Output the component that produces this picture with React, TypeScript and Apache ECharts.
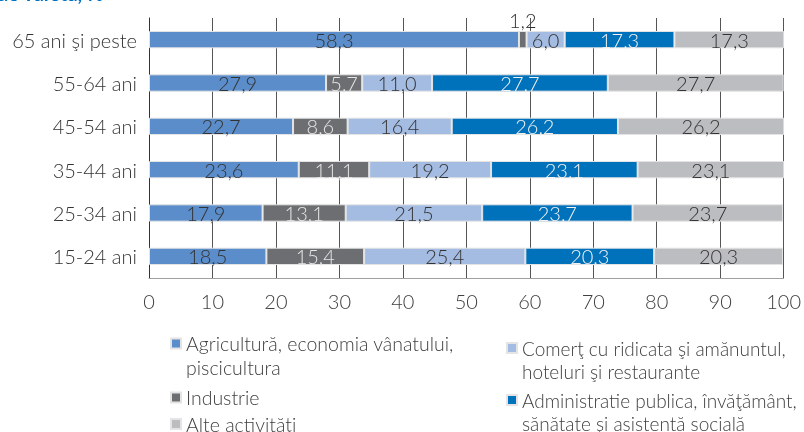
import React, { useEffect, useRef } from "react";
import * as echarts from "echarts";

const categories = ["15-24 ani", "25-34 ani", "35-44 ani", "45-54 ani", "55-64 ani", "65 ani şi peste"];
const agricultura = [18.5, 17.9, 23.6, 22.7, 27.9, 58.3];
const industrie = [15.4, 13.1, 11.1, 8.6, 5.7, 1.2];
const comert = [25.4, 21.5, 19.2, 16.4, 11.0, 6.0];
const administratie = [20.3, 23.7, 23.1, 26.2, 27.7, 17.3];
const alte = [20.3, 23.7, 23.1, 26.2, 27.7, 17.3];
const xTicks = [0, 10, 20, 30, 40, 50, 60, 70, 80, 90, 100];

const names = [
  "Agricultură, economia vânatului,\npiscicultura",
  "Industrie",
  "Comerţ cu ridicata şi amănuntul,\nhoteluri şi restaurante",
  "Administratie publica, învăţământ,\nsănătate şi asistentă socială",
  "Alte activităţi",
];
const colors = ["#5B8DCA", "#6D6E71", "#A4BCE2", "#0071BB", "#BCBDC0"];
const labelColors = ["#333333", "#E6E6E6", "#333333", "#F2F2F2", "#333333"];
const FONT = "Lato, 'Noto Sans', sans-serif";

export default function App() {
  const ref = useRef<HTMLDivElement>(null);
  useEffect(() => {
    const chart = echarts.init(ref.current!, null, { renderer: "svg" });
    const fmt = (v: number) => v.toFixed(1).replace(".", ",");
    const seriesData = [agricultura, industrie, comert, administratie, alte];
    const series = seriesData.map((arr, i) => ({
      name: names[i],
      type: "bar",
      stack: "total",
      barWidth: "40%",
      itemStyle: { color: colors[i], borderColor: "#E4E4E4", borderWidth: 1 },
      label: {
        show: true,
        position: "inside",
        formatter: (p: any) => fmt(p.value),
        color: labelColors[i],
        fontFamily: FONT,
        fontWeight: 300,
        fontSize: 20,
      },
      data: arr.map((v, j) =>
        i === 1 && j === 5
          ? { value: v, label: { position: "top", distance: 1, color: "#333333" } }
          : v
      ),
    }));
    const legendText = { fontFamily: FONT, fontSize: 19.5, color: "#404040", fontWeight: 300, lineHeight: 24 };
    const legendTextR = { ...legendText, fontSize: 19, lineHeight: 23 };
    const legendFmt = (n: string) => (n.includes("\n") ? " \n" + n : n);
    const legendBase = {
      orient: "vertical",
      itemWidth: 10,
      itemHeight: 10,
      icon: "rect",
      padding: 0,
      height: 200,
      formatter: legendFmt,
      textStyle: legendText,
    };
    chart.setOption({
      animation: false,
      grid: { left: 149, right: 17, top: 18, bottom: 154, containLabel: false },
      xAxis: {
        type: "value",
        min: 0,
        max: 100,
        interval: 10,
        axisLine: { show: true, lineStyle: { color: "#A0A0A0", width: 1 } },
        axisTick: { show: false },
        splitLine: { show: true, lineStyle: { color: "#555555", width: 1 } },
        axisLabel: {
          color: "#404040",
          fontFamily: FONT,
          fontSize: 20,
          fontWeight: 300,
          margin: 13,
          formatter: (v: number) => (xTicks.includes(v) ? String(v) : ""),
        },
      },
      yAxis: {
        type: "category",
        data: categories,
        axisLine: { show: true, lineStyle: { color: "#333333", width: 1 } },
        axisTick: { show: false },
        axisLabel: { color: "#333333", fontFamily: FONT, fontSize: 20, fontWeight: 300, margin: 12 },
      },
      legend: [
        { ...legendBase, data: [names[0]], left: 170, top: 307.5, itemGap: 0 },
        { ...legendBase, data: [names[1], names[4]], left: 170, top: 385.5, itemGap: 2.5 },
        { ...legendBase, data: [names[2], names[3]], left: 506, top: 313.5, itemGap: -17, textStyle: legendTextR },
      ],
      graphic: [
        {
          type: "text",
          right: 700,
          top: -17,
          style: {
            text: "Populaţia ocupată pe activităţi economice şi grupe de varsta, %",
            fill: "#0070C0",
            font: "bold 20px Lato, 'Noto Sans', sans-serif",
          },
        },
      ],
      series,
    });
    return () => chart.dispose();
  }, []);
  return <div ref={ref} style={{ width: 804, height: 432, position: "fixed", left: 0, top: 0 }} />;
}
